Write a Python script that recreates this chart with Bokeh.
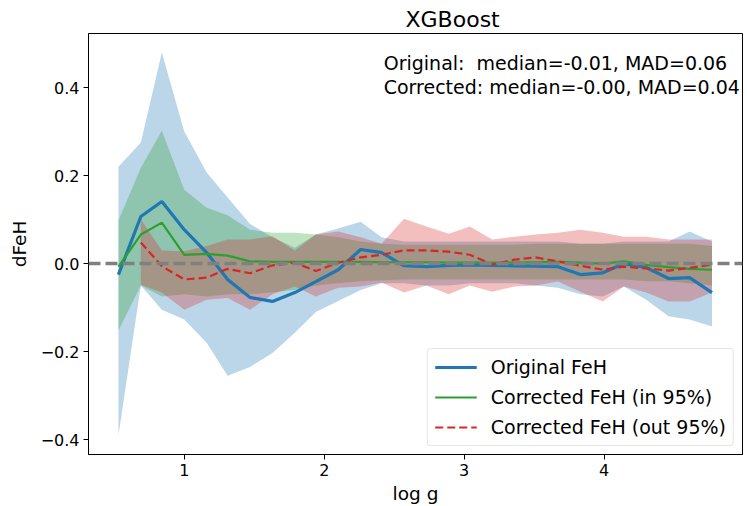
from bokeh.plotting import figure
from bokeh.models import Span, Label, Legend, LegendItem, FixedTicker, Range1d
from bokeh.embed import file_html
from bokeh.resources import INLINE

# ---------------- data ----------------
logg = [0.53, 0.69, 0.84, 1.00, 1.16, 1.31, 1.47, 1.63, 1.79, 1.94, 2.10, 2.26, 2.41, 2.57,
        2.73, 2.89, 3.04, 3.20, 3.36, 3.51, 3.67, 3.83, 3.99, 4.14, 4.30, 4.46, 4.61, 4.77]

orig_med = [-0.025, 0.107, 0.141, 0.077, 0.025, -0.036, -0.077, -0.086, -0.066, -0.041,
            -0.014, 0.032, 0.025, -0.005, -0.007, -0.004, -0.003, -0.004, -0.005, -0.006,
            -0.007, -0.025, -0.021, 0.000, -0.009, -0.034, -0.032, -0.066]
orig_hi = [0.22, 0.275, 0.48, 0.30, 0.207, 0.15, 0.09, 0.06, 0.036, 0.066, 0.08, 0.095,
           0.06, 0.05, 0.05, 0.05, 0.05, 0.05, 0.05, 0.05, 0.05, 0.045, 0.045, 0.05, 0.05,
           0.05, 0.073, 0.05]
orig_lo = [-0.39, -0.05, -0.105, -0.127, -0.18, -0.255, -0.235, -0.203, -0.157, -0.11,
           -0.085, -0.06, -0.045, -0.045, -0.05, -0.05, -0.045, -0.045, -0.045, -0.05,
           -0.055, -0.07, -0.075, -0.052, -0.082, -0.12, -0.127, -0.143]

in_med = [-0.007, 0.066, 0.093, 0.02, 0.022, 0.018, 0.005, 0.004, 0.004, 0.004, 0.004,
          0.004, 0.003, 0.003, 0.003, 0.002, 0.002, 0.002, 0.002, 0.003, 0.004, 0.002,
          0.0, 0.005, -0.003, -0.008, -0.012, -0.014]
in_hi = [0.098, 0.218, 0.302, 0.168, 0.127, 0.11, 0.077, 0.07, 0.07, 0.066, 0.06, 0.05,
         0.045, 0.043, 0.043, 0.043, 0.043, 0.043, 0.043, 0.045, 0.045, 0.045, 0.045,
         0.045, 0.045, 0.045, 0.045, 0.04]
in_lo = [-0.152, -0.05, -0.075, -0.07, -0.075, -0.07, -0.07, -0.065, -0.06, -0.05, -0.045,
         -0.04, -0.038, -0.036, -0.036, -0.036, -0.036, -0.036, -0.036, -0.036, -0.036,
         -0.036, -0.036, -0.036, -0.04, -0.04, -0.045, -0.05]

out_logg = logg[1:]
out_med = [0.048, -0.006, -0.036, -0.032, -0.012, -0.022, -0.004, 0.002, -0.017, 0.002,
           0.014, 0.02, 0.03, 0.03, 0.027, 0.02, -0.002, 0.009, 0.014, 0.005, -0.005,
           -0.014, -0.007, -0.011, -0.016, -0.01, -0.002]
out_hi = [0.1, 0.03, 0.028, 0.04, 0.055, 0.055, 0.062, 0.03, 0.066, 0.073, 0.06, 0.045,
          0.102, 0.084, 0.068, 0.084, 0.055, 0.061, 0.066, 0.07, 0.077, 0.07, 0.061, 0.061,
          0.055, 0.055, 0.055]
out_lo = [-0.048, -0.066, -0.105, -0.082, -0.078, -0.105, -0.07, -0.052, -0.075, -0.055,
          -0.052, -0.043, -0.066, -0.05, -0.07, -0.05, -0.064, -0.052, -0.05, -0.041,
          -0.064, -0.086, -0.052, -0.066, -0.086, -0.086, -0.066]

x_ticks = [1, 2, 3, 4]
y_ticks = [-0.4, -0.2, 0.0, 0.2, 0.4]
y_tick_labels = ["\u22120.4", "\u22120.2", "0.0", "0.2", "0.4"]

title_text = "XGBoost"
x_label = "log g"
y_label = "dFeH"
stats_lines = ["Original:\u00a0 median=-0.01, MAD=0.06",
               "Corrected: median=-0.00, MAD=0.04"]
legend_labels = ["Original FeH", "Corrected FeH (in 95%)", "Corrected FeH (out 95%)"]

BLUE, GREEN, RED = "#1f77b4", "#2ca02c", "#d62728"
FONT = "DejaVu Sans"

# ---------------- figure ----------------
p = figure(width=747, height=506, output_backend="svg", toolbar_location=None,
           x_range=Range1d(0.316, 4.988), y_range=Range1d(-0.434, 0.523),
           min_border_left=88, min_border_right=5, min_border_top=33, min_border_bottom=51)
p.background_fill_color = "white"
p.border_fill_color = "white"
p.outline_line_color = "black"
p.outline_line_width = 1
p.grid.visible = False

p.title.text = title_text
p.title.align = "left"
p.title.offset = 317
p.title.standoff = 4
p.title.text_font = FONT
p.title.text_font_size = "22px"
p.title.text_font_style = "normal"
p.title.text_color = "black"

for ax in (p.xaxis, p.yaxis):
    ax.axis_line_color = "black"
    ax.major_tick_line_color = "black"
    ax.minor_tick_line_color = None
    ax.major_tick_out = 5
    ax.major_tick_in = 0
    ax.major_label_text_font = FONT
    ax.major_label_text_font_size = "16px"
    ax.major_label_text_color = "black"
    ax.axis_label_text_font = FONT
    ax.axis_label_text_font_size = "18.5px"
    ax.axis_label_text_font_style = "normal"
    ax.axis_label_text_color = "black"

p.xaxis.ticker = FixedTicker(ticks=x_ticks)
p.yaxis.ticker = FixedTicker(ticks=y_ticks)
p.yaxis.major_label_overrides = {t: s for t, s in zip(y_ticks, y_tick_labels)}
p.xaxis.axis_label = x_label
p.yaxis.axis_label = y_label
p.xaxis.major_label_standoff = 4
p.xaxis.axis_label_standoff = 4
p.yaxis.major_label_standoff = 4
p.yaxis.axis_label_standoff = 8

# bands
p.varea(x=logg, y1=orig_lo, y2=orig_hi, fill_color=BLUE, fill_alpha=0.3)
p.varea(x=logg, y1=in_lo, y2=in_hi, fill_color=GREEN, fill_alpha=0.3)
p.varea(x=out_logg, y1=out_lo, y2=out_hi, fill_color=RED, fill_alpha=0.3)

# zero line
p.add_layout(Span(location=0, dimension="width", line_color="#808080",
                  line_width=3.5, line_dash="12 5"))

# median lines
r_orig = p.line(logg, orig_med, line_color=BLUE, line_width=3.2)
r_in = p.line(logg, in_med, line_color=GREEN, line_width=2.2)
r_out = p.line(out_logg, out_med, line_color=RED, line_width=2.2, line_dash="8 4")

# stats text
for txt, yv in zip(stats_lines, [0.456, 0.402]):
    p.add_layout(Label(x=2.425, y=yv, text=txt, text_font=FONT, text_font_size="19px",
                       text_color="black", text_baseline="alphabetic", text_align="left"))

legend = Legend(items=[LegendItem(label=legend_labels[0], renderers=[r_orig]),
                       LegendItem(label=legend_labels[1], renderers=[r_in]),
                       LegendItem(label=legend_labels[2], renderers=[r_out])],
                location="bottom_right")
legend.label_text_font = FONT
legend.label_text_font_size = "19px"
legend.label_text_color = "black"
legend.glyph_width = 42
legend.glyph_height = 22
legend.label_height = 22
legend.label_standoff = 14
legend.spacing = 8
legend.padding = 7
legend.margin = 8
legend.border_line_color = "#cccccc"
legend.border_line_width = 1
legend.background_fill_alpha = 0.8
if "border_radius" in Legend.properties():
    legend.border_radius = 4
p.add_layout(legend)

open("out.html", "w").write(file_html(p, INLINE))
